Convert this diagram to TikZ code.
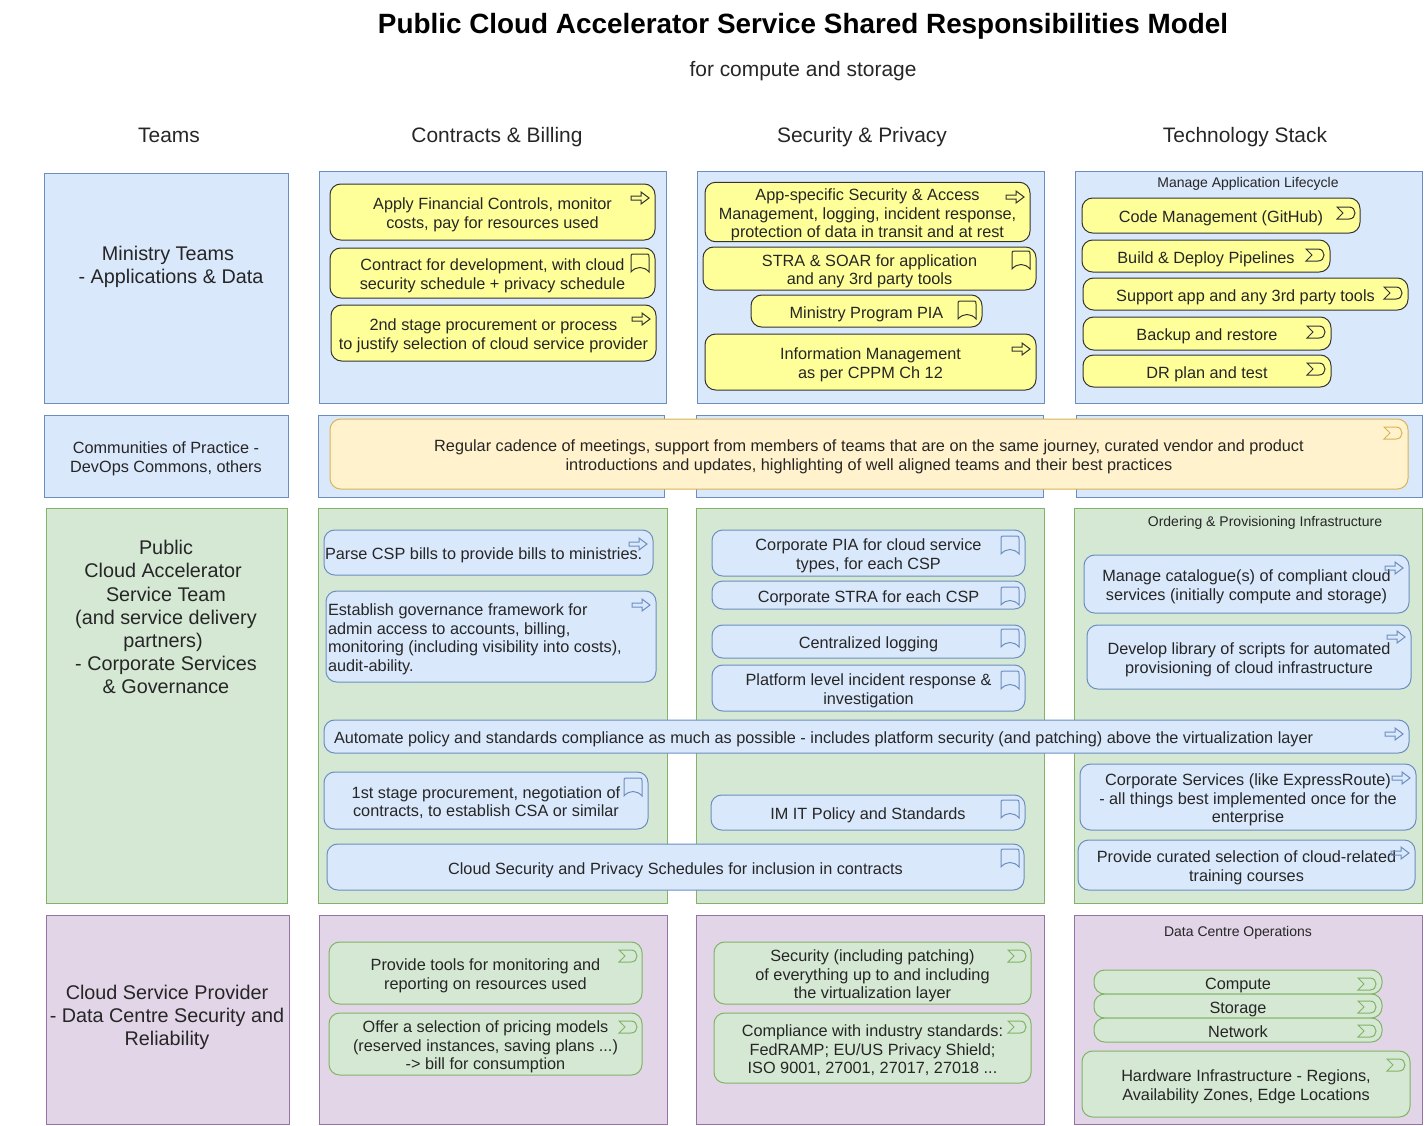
\documentclass[tikz,border=0pt]{standalone}
\usepackage{fontspec}
\setmainfont{Liberation Sans}
\usetikzlibrary{positioning}
\definecolor{cBlueFill}{HTML}{DAE8FC}
\definecolor{cBlue}{HTML}{6C8EBF}
\definecolor{cGreenFill}{HTML}{D5E8D4}
\definecolor{cGreen}{HTML}{82B366}
\definecolor{cPurpleFill}{HTML}{E1D5E7}
\definecolor{cPurple}{HTML}{9673A6}
\definecolor{cOrangeFill}{HTML}{FFF2CC}
\definecolor{cOrange}{HTML}{D6B656}
\definecolor{cYellow}{HTML}{FFFF99}
\definecolor{cInk}{HTML}{262626}
\tikzset{
  wh/.style 2 args={minimum width=#1*0.75pt, minimum height=#2*0.75pt, text width=#1*0.75pt-3pt},
  blk/.style={draw, line width=0.75pt, align=flush center, inner sep=0pt, text=cInk,
              font=\fontsize{12.2}{14}\selectfont,
              execute at begin node={\rule{0pt}{13.6pt}},
              execute at end node={\rule[-3pt]{0pt}{3pt}}},
  panelb/.style={blk, draw=cBlue, fill=cBlueFill},
  panelg/.style={blk, draw=cGreen, fill=cGreenFill},
  panelp/.style={blk, draw=cPurple, fill=cPurpleFill},
  yel/.style={blk, rounded corners=8pt, draw=black!80, fill=cYellow},
  blu/.style={blk, rounded corners=8pt, draw=cBlue, fill=cBlueFill},
  grn/.style={blk, rounded corners=8pt, draw=cGreen, fill=cGreenFill},
  org/.style={blk, rounded corners=8pt, draw=cOrange, fill=cOrangeFill},
  lbl/.style={inner sep=0pt, text=cInk, align=center, font=\fontsize{10.5}{12}\selectfont},
  bigt/.style={font=\fontsize{14.85}{17.3}\selectfont},
  head/.style={inner sep=0pt, text=cInk, font=\fontsize{15.7}{17}\selectfont},
  icy/.style={draw=black!80, line width=0.75pt},
  icb/.style={draw=cBlue, line width=0.75pt},
  icg/.style={draw=cGreen, line width=0.75pt},
  ico/.style={draw=cOrange, line width=0.75pt},
  arrowic/.pic={\draw[pic actions] (-9,-2) -- (1,-2) -- (1,-6) -- (9,0) -- (1,6) -- (1,2) -- (-9,2) -- cycle;},
  bookic/.pic={\draw[pic actions] (-9,9) -- (-9,-6) .. controls (-9,-9) and (-9,-9) .. (-6,-9) -- (6,-9)
      .. controls (9,-9) and (9,-9) .. (9,-6) -- (9,9) .. controls (4,3) and (-4,3) .. (-9,9) -- cycle;},
  eventic/.pic={\draw[pic actions] (-9,-6) -- (3,-6) .. controls (11,-6) and (11,6) .. (3,6) -- (-9,6) -- (-3,0) -- cycle;},
}

\begin{document}
\begin{tikzpicture}[x=0.75pt, y=-0.75pt]
    \useasboundingbox (0,0) rectangle (1425,1125);

    % --- headings ---
    \node[inner sep=0pt, text=black, font=\fontsize{20.9}{24}\selectfont\bfseries] (title) at (803,26) {Public Cloud Accelerator Service Shared Responsibilities Model};
    \node[head] (subtitle) at (803,71) {for compute and storage};
    \node[head] (hTeams)    at (169,135)  {Teams};
    \node[head] (hContract) at (497,137)  {Contracts \& Billing};
    \node[head] (hSecurity) at (862,137)  {Security \& Privacy};
    \node[head] (hTech)     at (1245,137) {Technology Stack};

    % --- ministry row ---
    \node[panelb, wh={244}{230}] (tMinistry) at (166,288) {};
    \node[lbl, bigt] (tMinistryText) at (171,267) {Ministry Teams\kern4.5pt\\- Applications \& Data};
    \node[panelb, wh={347}{232}] (pMinContract) at (492.5,287) {};
    \node[panelb, wh={347}{232}] (pMinSecurity) at (870.5,287) {};
    \node[panelb, wh={347}{232}] (pMinTech)     at (1248.5,287) {};
    \node[lbl] (lLifecycle) at (1248,184) {Manage Application Lifecycle};

    \node[yel, wh={325}{56}] (apply)  at (492.5,212)  {Apply Financial Controls, monitor\\costs, pay for resources used};
    \node[yel, wh={325}{50}] (dev)    at (492.5,273)  {Contract for development, with cloud\\security schedule + privacy schedule};
    \node[yel, wh={325}{56}] (second) at (493.5,333)  {2nd stage procurement or process\\to justify selection of cloud service provider};
    \node[yel, wh={325}{56}] (appsec) at (867.5,212)  {App-specific Security \& Access\\Management, logging, incident response,\\protection of data in transit and at rest};
    \node[yel, wh={333}{43}] (stra)   at (869.5,268.5){STRA \& SOAR for application\\and any 3rd party tools};
    \node[yel, wh={231}{32}] (pia)    at (866.5,311)  {Ministry Program PIA};
    \node[yel, wh={331}{56}] (infom)  at (870.5,362)  {Information Management\\as per CPPM Ch 12};
    \node[yel, wh={278}{35}] (code)   at (1221,215.5) {Code Management (GitHub)};
    \node[yel, wh={248}{32}] (build)  at (1206,256)   {Build \& Deploy Pipelines};
    \node[yel, wh={325}{32}] (support) at (1245.5,294){Support app and any 3rd party tools};
    \node[yel, wh={248}{33}] (backup) at (1207,333.5) {Backup and restore};
    \node[yel, wh={248}{32}] (drplan) at (1207,371)   {DR plan and test};

    \pic[icy] at (640,198)  {arrowic};
    \pic[icy] at (641,319)  {arrowic};
    \pic[icy] at (1015,197) {arrowic};
    \pic[icy] at (1021,349) {arrowic};
    \pic[icy] at (640,263)  {bookic};
    \pic[icy] at (1021,260) {bookic};
    \pic[icy] at (967,310)  {bookic};
    \pic[icy] at (1346,213) {eventic};
    \pic[icy] at (1315,255) {eventic};
    \pic[icy] at (1393,293) {eventic};
    \pic[icy] at (1316,332) {eventic};
    \pic[icy] at (1316,369) {eventic};

    % --- communities row ---
    \node[panelb, wh={244}{82}] (tCommunity) at (166,456) {Communities of Practice -\\DevOps Commons, others};
    \node[panelb, wh={346}{82}] (pComContract) at (491,456) {};
    \node[panelb, wh={347}{82}] (pComSecurity) at (869.5,456) {};
    \node[panelb, wh={346}{82}] (pComTech)     at (1249,456) {};
    \node[org, wh={1078}{70}] (cadence) at (869,454) {Regular cadence of meetings, support from members of teams that are on the same journey, curated vendor and product\\introductions and updates, highlighting of well aligned teams and their best practices};
    \pic[ico] at (1393,433) {eventic};

    % --- cloud accelerator row ---
    \node[panelg, wh={241}{395}] (tAccel) at (166.5,705.5) {};
    \node[lbl, bigt] (tAccelText) at (166,617) {Public\\Cloud Accelerator\kern4.5pt\\Service Team\\(and service delivery\\partners)\kern4.5pt\\- Corporate Services\\\& Governance};
    \node[panelg, wh={349}{395}] (pAccContract) at (492.5,705.5) {};
    \node[panelg, wh={348}{395}] (pAccSecurity) at (870,705.5) {};
    \node[panelg, wh={348}{395}] (pAccTech)     at (1248,705.5) {};
    \node[lbl] (lOrdering) at (1265,523) {Ordering \& Provisioning Infrastructure};

    \node[blu, wh={329}{45}, text width=245.25pt, inner xsep=0.75pt, align=flush left] (parse) at (488.5,552.5) {Parse CSP bills to provide bills to ministries.};
    \node[blu, wh={330}{91}, text width=244.5pt, inner xsep=1.5pt, align=flush left] (govern) at (491,636.5) {Establish governance framework for\\admin access to accounts, billing,\\monitoring (including visibility into costs),\\audit-ability.};
    \node[blu, wh={324}{57}] (first)  at (486,800.5)  {1st stage procurement, negotiation of\\contracts, to establish CSA or similar};
    \node[blu, wh={313}{46}] (cpia)   at (868.5,553)  {Corporate PIA for cloud service\\types, for each CSP};
    \node[blu, wh={313}{28}] (cstra)  at (868.5,595)  {Corporate STRA for each CSP};
    \node[blu, wh={313}{33}] (clog)   at (868.5,641.5){Centralized logging};
    \node[blu, wh={313}{46}] (plat)   at (868.5,688)  {Platform level incident response \&\\investigation};
    \node[blu, wh={314}{35}] (imit)   at (868,812.5)  {IM IT Policy and Standards};
    \node[blu, wh={325}{58}] (catalog) at (1246.5,584){Manage catalogue(s) of compliant cloud\\services (initially compute and storage)};
    \node[blu, wh={324}{64}] (scripts) at (1249,657)  {Develop library of scripts for automated\\provisioning of cloud infrastructure};
    \node[blu, wh={336}{66}] (corpsvc) at (1248,797)  {Corporate Services (like ExpressRoute)\\- all things best implemented once for the\\enterprise};
    \node[blu, wh={337}{50}] (training) at (1246.5,865){Provide curated selection of cloud-related\\training courses};
    \node[blu, wh={1085}{33}, text width=798.75pt, inner xsep=7.5pt, align=flush left] (automate) at (866.5,736.5) {Automate policy and standards compliance as much as possible - includes platform security (and patching) above the virtualization layer};
    \node[blu, wh={697}{46}] (schedules) at (675.5,867) {Cloud Security and Privacy Schedules for inclusion in contracts};

    \pic[icb] at (638,544)  {arrowic};
    \pic[icb] at (641,605)  {arrowic};
    \pic[icb] at (1394,734) {arrowic};
    \pic[icb] at (1394,568) {arrowic};
    \pic[icb] at (1396,637) {arrowic};
    \pic[icb] at (1401,778) {arrowic};
    \pic[icb] at (1400,853) {arrowic};
    \pic[icb] at (633,787)  {bookic};
    \pic[icb] at (1010,858) {bookic};
    \pic[icb] at (1010,545) {bookic};
    \pic[icb] at (1010,596) {bookic};
    \pic[icb] at (1010,638) {bookic};
    \pic[icb] at (1010,680) {bookic};
    \pic[icb] at (1010,809) {bookic};

    % --- provider row ---
    \node[panelp, wh={243}{209}] (tProvider) at (167.5,1019.5) {};
    \node[lbl, bigt] (tProviderText) at (167,1017) {Cloud Service Provider\\- Data Centre Security and\\Reliability};
    \node[panelp, wh={348}{209}] (pProContract) at (493,1019.5) {};
    \node[panelp, wh={348}{209}] (pProSecurity) at (870,1019.5) {};
    \node[panelp, wh={348}{209}] (pProTech)     at (1248,1019.5) {};
    \node[lbl] (lDataCentre) at (1238,933) {Data Centre Operations};

    \node[grn, wh={313}{62}] (tools)   at (485.5,973)  {Provide tools for monitoring and\\reporting on resources used};
    \node[grn, wh={313}{62}] (pricing) at (485.5,1044) {Offer a selection of pricing models\\(reserved instances, saving plans ...)\\-> bill for consumption};
    \node[grn, wh={317}{62}] (patching) at (872.5,973) {Security (including patching)\\of everything up to and including\\the virtualization layer};
    \node[grn, wh={317}{70}] (comply)  at (872.5,1048) {Compliance with industry standards:\\FedRAMP; EU/US Privacy Shield;\\ISO 9001, 27001, 27017, 27018 ...};
    \node[grn, wh={288}{24}] (compute) at (1238,982)   {Compute};
    \node[grn, wh={288}{24}] (storage) at (1238,1006)  {Storage};
    \node[grn, wh={288}{24}] (network) at (1238,1030)  {Network};
    \node[grn, wh={328}{66}] (hardware) at (1246,1084) {Hardware Infrastructure - Regions,\\Availability Zones, Edge Locations};

    \pic[icg] at (628,956)   {eventic};
    \pic[icg] at (628,1027)  {eventic};
    \pic[icg] at (1017,956)  {eventic};
    \pic[icg] at (1017,1027) {eventic};
    \pic[icg] at (1367,984)  {eventic};
    \pic[icg] at (1367,1007) {eventic};
    \pic[icg] at (1367,1031) {eventic};
    \pic[icg] at (1396,1065) {eventic};
\end{tikzpicture}
\end{document}
